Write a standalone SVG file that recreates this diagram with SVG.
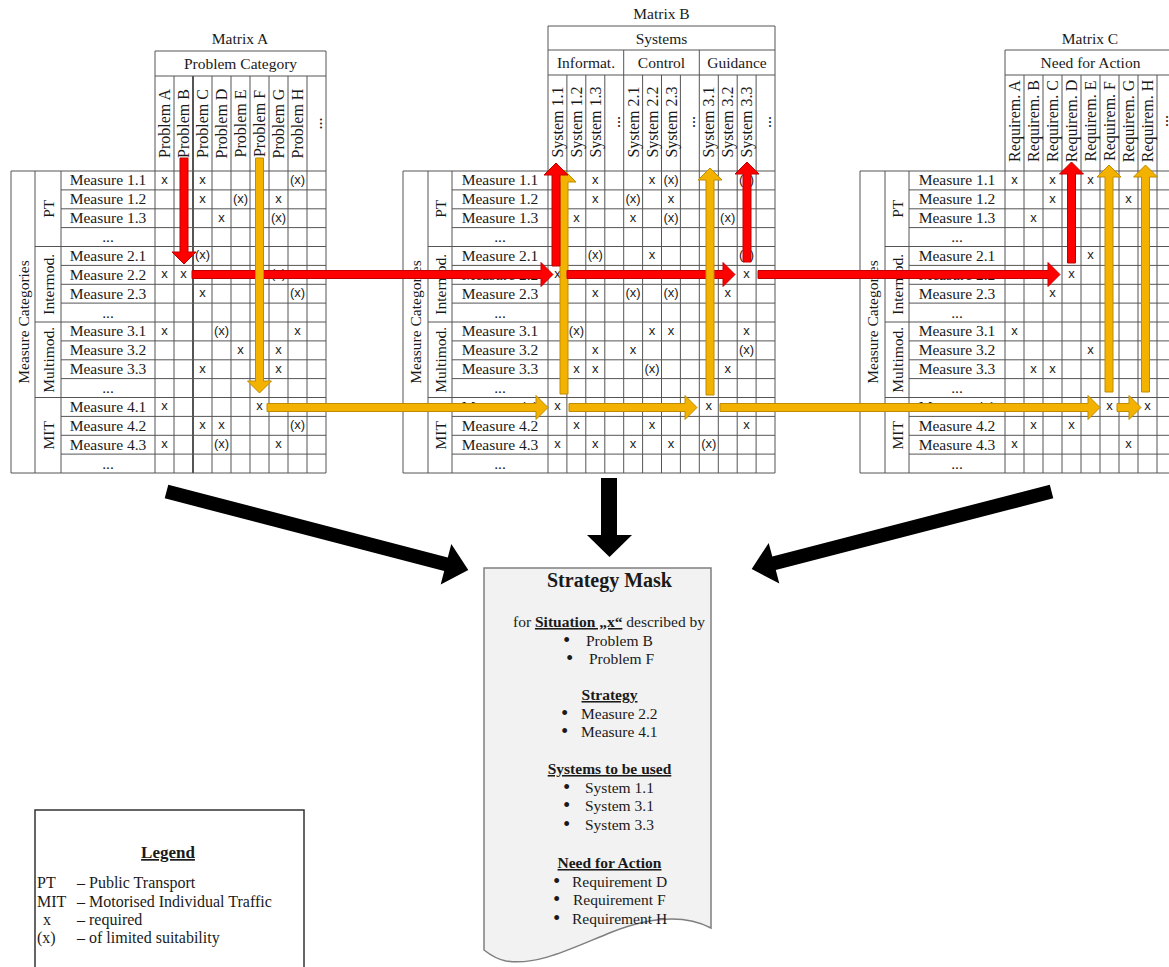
<svg xmlns="http://www.w3.org/2000/svg" width="1169" height="967" viewBox="0 0 1169 967">
<style>
.grid{fill:none;stroke:#555;stroke-width:1}
.t{font-family:"Liberation Serif","Times New Roman",serif;font-size:15.5px;fill:#1a1a1a}
.c{text-anchor:middle}
.h{font-size:16px;text-anchor:middle}
.b{font-weight:bold}
.u{text-decoration:underline}
.bl{font-family:"Liberation Sans",Arial,sans-serif;font-size:18px}
.m{font-family:"Liberation Sans",Arial,sans-serif;font-size:13px;text-anchor:middle;fill:#1a1a1a}
.red{fill:#FF0000;stroke:#C00000;stroke-width:1}
.org{fill:#F3B100;stroke:#BF8C00;stroke-width:1}
.blk{fill:#000}
</style>
<rect width="1169" height="967" fill="#fff"/>

<g id="matrix-a">
<path class="grid" d="M11,171H326M11,473H326M61,189.9H326M61,208.8H326M61,227.6H326M35,246.5H326M61,265.4H326M61,284.3H326M61,303.1H326M35,322H326M61,340.9H326M61,359.8H326M61,378.6H326M35,397.5H326M61,416.4H326M61,435.3H326M61,454.1H326M11,171V473M35,171V473M61,171V473M155,51V473M174,76V473M212,76V473M231,76V473M250,76V473M269,76V473M288,76V473M307,76V473M326,51V473M155,51H326M155,76H326"/>
<path class="grid" style="stroke-width:2" d="M193,76V473"/>
<text class="t c" x="240" y="44">Matrix A</text>
<text class="t c" x="240.5" y="69">Problem Category</text>
<text class="t h" transform="translate(170,123.5) rotate(-90)">Problem A</text>
<text class="t h" transform="translate(189,123.5) rotate(-90)">Problem B</text>
<text class="t h" transform="translate(208,123.5) rotate(-90)">Problem C</text>
<text class="t h" transform="translate(227,123.5) rotate(-90)">Problem D</text>
<text class="t h" transform="translate(246,123.5) rotate(-90)">Problem E</text>
<text class="t h" transform="translate(265,123.5) rotate(-90)">Problem F</text>
<text class="t h" transform="translate(284,123.5) rotate(-90)">Problem G</text>
<text class="t h" transform="translate(303,123.5) rotate(-90)">Problem H</text>
<text class="t h" transform="translate(322,123.5) rotate(-90)">...</text>
<text class="t c" transform="translate(28.5,322) rotate(-90)">Measure Categories</text>
<text class="t c" transform="translate(53.5,208.8) rotate(-90)">PT</text>
<text class="t c" transform="translate(53.5,284.3) rotate(-90)">Intermod.</text>
<text class="t c" transform="translate(53.5,359.8) rotate(-90)">Multimod.</text>
<text class="t c" transform="translate(53.5,435.3) rotate(-90)">MIT</text>
<text class="t c" x="108" y="185.4">Measure 1.1</text>
<text class="t c" x="108" y="204.3">Measure 1.2</text>
<text class="t c" x="108" y="223.2">Measure 1.3</text>
<text class="t c" x="108" y="242">...</text>
<text class="t c" x="108" y="260.9">Measure 2.1</text>
<text class="t c" x="108" y="279.8">Measure 2.2</text>
<text class="t c" x="108" y="298.7">Measure 2.3</text>
<text class="t c" x="108" y="317.5">...</text>
<text class="t c" x="108" y="336.4">Measure 3.1</text>
<text class="t c" x="108" y="355.3">Measure 3.2</text>
<text class="t c" x="108" y="374.2">Measure 3.3</text>
<text class="t c" x="108" y="393">...</text>
<text class="t c" x="108" y="411.9">Measure 4.1</text>
<text class="t c" x="108" y="430.8">Measure 4.2</text>
<text class="t c" x="108" y="449.7">Measure 4.3</text>
<text class="t c" x="108" y="468.5">...</text>
<text class="m" x="164.5" y="183.9">x</text><text class="m" x="202.5" y="183.9">x</text><text class="m" x="297.5" y="183.9">(x)</text>
<text class="m" x="202.5" y="202.8">x</text><text class="m" x="240.5" y="202.8">(x)</text><text class="m" x="278.5" y="202.8">x</text>
<text class="m" x="221.5" y="221.7">x</text><text class="m" x="278.5" y="221.7">(x)</text>
<text class="m" x="202.5" y="259.4">(x)</text>
<text class="m" x="164.5" y="278.3">x</text><text class="m" x="183.5" y="278.3">x</text><text class="m" x="278.5" y="278.3">(x)</text>
<text class="m" x="202.5" y="297.2">x</text><text class="m" x="297.5" y="297.2">(x)</text>
<text class="m" x="164.5" y="334.9">x</text><text class="m" x="221.5" y="334.9">(x)</text><text class="m" x="297.5" y="334.9">x</text>
<text class="m" x="240.5" y="353.8">x</text><text class="m" x="278.5" y="353.8">x</text>
<text class="m" x="202.5" y="372.7">x</text><text class="m" x="278.5" y="372.7">x</text>
<text class="m" x="164.5" y="410.4">x</text><text class="m" x="259.5" y="410.4">x</text>
<text class="m" x="202.5" y="429.3">x</text><text class="m" x="221.5" y="429.3">x</text><text class="m" x="297.5" y="429.3">(x)</text>
<text class="m" x="164.5" y="448.2">x</text><text class="m" x="221.5" y="448.2">(x)</text><text class="m" x="278.5" y="448.2">x</text>
</g>

<g id="matrix-b">
<path class="grid" d="M403,171H775M403,473H775M452,189.9H775M452,208.8H775M452,227.6H775M428,246.5H775M452,265.4H775M452,284.3H775M452,303.1H775M428,322H775M452,340.9H775M452,359.8H775M452,378.6H775M428,397.5H775M452,416.4H775M452,435.3H775M452,454.1H775M403,171V473M428,171V473M452,171V473M548,26V473M566.9,75V473M585.8,75V473M604.8,75V473M623.7,50V473M642.6,75V473M661.5,75V473M680.4,75V473M699.3,50V473M718.3,75V473M737.2,75V473M756.1,75V473M775,26V473M548,26H775M548,50H775M548,75H775"/>
<text class="t c" x="661.5" y="19">Matrix B</text>
<text class="t c" x="661.5" y="43.5">Systems</text>
<text class="t c" x="586" y="67.5">Informat.</text>
<text class="t c" x="661.5" y="67.5">Control</text>
<text class="t c" x="737" y="67.5">Guidance</text>
<text class="t h" transform="translate(563,122) rotate(-90)">System 1.1</text>
<text class="t h" transform="translate(581.9,122) rotate(-90)">System 1.2</text>
<text class="t h" transform="translate(600.8,122) rotate(-90)">System 1.3</text>
<text class="t h" transform="translate(619.7,122) rotate(-90)">...</text>
<text class="t h" transform="translate(638.6,122) rotate(-90)">System 2.1</text>
<text class="t h" transform="translate(657.5,122) rotate(-90)">System 2.2</text>
<text class="t h" transform="translate(676.5,122) rotate(-90)">System 2.3</text>
<text class="t h" transform="translate(695.4,122) rotate(-90)">...</text>
<text class="t h" transform="translate(714.3,122) rotate(-90)">System 3.1</text>
<text class="t h" transform="translate(733.2,122) rotate(-90)">System 3.2</text>
<text class="t h" transform="translate(752.1,122) rotate(-90)">System 3.3</text>
<text class="t h" transform="translate(771,122) rotate(-90)">...</text>
<text class="t c" transform="translate(421,322) rotate(-90)">Measure Categories</text>
<text class="t c" transform="translate(445.5,208.8) rotate(-90)">PT</text>
<text class="t c" transform="translate(445.5,284.3) rotate(-90)">Intermod.</text>
<text class="t c" transform="translate(445.5,359.8) rotate(-90)">Multimod.</text>
<text class="t c" transform="translate(445.5,435.3) rotate(-90)">MIT</text>
<text class="t c" x="500" y="185.4">Measure 1.1</text>
<text class="t c" x="500" y="204.3">Measure 1.2</text>
<text class="t c" x="500" y="223.2">Measure 1.3</text>
<text class="t c" x="500" y="242">...</text>
<text class="t c" x="500" y="260.9">Measure 2.1</text>
<text class="t c" x="500" y="279.8">Measure 2.2</text>
<text class="t c" x="500" y="298.7">Measure 2.3</text>
<text class="t c" x="500" y="317.5">...</text>
<text class="t c" x="500" y="336.4">Measure 3.1</text>
<text class="t c" x="500" y="355.3">Measure 3.2</text>
<text class="t c" x="500" y="374.2">Measure 3.3</text>
<text class="t c" x="500" y="393">...</text>
<text class="t c" x="500" y="411.9">Measure 4.1</text>
<text class="t c" x="500" y="430.8">Measure 4.2</text>
<text class="t c" x="500" y="449.7">Measure 4.3</text>
<text class="t c" x="500" y="468.5">...</text>
<text class="m" x="595.3" y="183.9">x</text><text class="m" x="652" y="183.9">x</text><text class="m" x="671" y="183.9">(x)</text><text class="m" x="746.6" y="183.9">(x)</text>
<text class="m" x="595.3" y="202.8">x</text><text class="m" x="633.1" y="202.8">(x)</text><text class="m" x="671" y="202.8">x</text>
<text class="m" x="576.4" y="221.7">x</text><text class="m" x="633.1" y="221.7">x</text><text class="m" x="671" y="221.7">(x)</text><text class="m" x="727.7" y="221.7">(x)</text>
<text class="m" x="595.3" y="259.4">(x)</text><text class="m" x="652" y="259.4">x</text><text class="m" x="746.6" y="259.4">(x)</text>
<text class="m" x="557.5" y="278.3">x</text><text class="m" x="746.6" y="278.3">x</text>
<text class="m" x="595.3" y="297.2">x</text><text class="m" x="633.1" y="297.2">(x)</text><text class="m" x="671" y="297.2">(x)</text><text class="m" x="727.7" y="297.2">x</text>
<text class="m" x="576.4" y="334.9">(x)</text><text class="m" x="652" y="334.9">x</text><text class="m" x="671" y="334.9">x</text><text class="m" x="746.6" y="334.9">x</text>
<text class="m" x="595.3" y="353.8">x</text><text class="m" x="633.1" y="353.8">x</text><text class="m" x="746.6" y="353.8">(x)</text>
<text class="m" x="576.4" y="372.7">x</text><text class="m" x="595.3" y="372.7">x</text><text class="m" x="652" y="372.7">(x)</text><text class="m" x="727.7" y="372.7">x</text>
<text class="m" x="557.5" y="410.4">x</text><text class="m" x="708.8" y="410.4">x</text>
<text class="m" x="576.4" y="429.3">x</text><text class="m" x="652" y="429.3">x</text><text class="m" x="746.6" y="429.3">x</text>
<text class="m" x="557.5" y="448.2">x</text><text class="m" x="595.3" y="448.2">x</text><text class="m" x="633.1" y="448.2">x</text><text class="m" x="671" y="448.2">x</text><text class="m" x="708.8" y="448.2">(x)</text>
</g>

<g id="matrix-c">
<path class="grid" d="M860,171H1176M860,473H1176M909,189.9H1176M909,208.8H1176M909,227.6H1176M885,246.5H1176M909,265.4H1176M909,284.3H1176M909,303.1H1176M885,322H1176M909,340.9H1176M909,359.8H1176M909,378.6H1176M885,397.5H1176M909,416.4H1176M909,435.3H1176M909,454.1H1176M860,171V473M885,171V473M909,171V473M1005,50V473M1024,75V473M1043,75V473M1062,75V473M1081,75V473M1100,75V473M1119,75V473M1138,75V473M1157,75V473M1005,50H1176M1005,75H1176"/>
<text class="t c" x="1090" y="44">Matrix C</text>
<text class="t c" x="1090.5" y="67.5">Need for Action</text>
<text class="t h" transform="translate(1020,121) rotate(-90)">Requirem. A</text>
<text class="t h" transform="translate(1039,121) rotate(-90)">Requirem. B</text>
<text class="t h" transform="translate(1058,121) rotate(-90)">Requirem. C</text>
<text class="t h" transform="translate(1077,121) rotate(-90)">Requirem. D</text>
<text class="t h" transform="translate(1096,121) rotate(-90)">Requirem. E</text>
<text class="t h" transform="translate(1115,121) rotate(-90)">Requirem. F</text>
<text class="t h" transform="translate(1134,121) rotate(-90)">Requirem. G</text>
<text class="t h" transform="translate(1153,121) rotate(-90)">Requirem. H</text>
<text class="t h" transform="translate(1167.5,121) rotate(-90)">...</text>
<text class="t c" transform="translate(878,322) rotate(-90)">Measure Categories</text>
<text class="t c" transform="translate(902.5,208.8) rotate(-90)">PT</text>
<text class="t c" transform="translate(902.5,284.3) rotate(-90)">Intermod.</text>
<text class="t c" transform="translate(902.5,359.8) rotate(-90)">Multimod.</text>
<text class="t c" transform="translate(902.5,435.3) rotate(-90)">MIT</text>
<text class="t c" x="957" y="185.4">Measure 1.1</text>
<text class="t c" x="957" y="204.3">Measure 1.2</text>
<text class="t c" x="957" y="223.2">Measure 1.3</text>
<text class="t c" x="957" y="242">...</text>
<text class="t c" x="957" y="260.9">Measure 2.1</text>
<text class="t c" x="957" y="279.8">Measure 2.2</text>
<text class="t c" x="957" y="298.7">Measure 2.3</text>
<text class="t c" x="957" y="317.5">...</text>
<text class="t c" x="957" y="336.4">Measure 3.1</text>
<text class="t c" x="957" y="355.3">Measure 3.2</text>
<text class="t c" x="957" y="374.2">Measure 3.3</text>
<text class="t c" x="957" y="393">...</text>
<text class="t c" x="957" y="411.9">Measure 4.1</text>
<text class="t c" x="957" y="430.8">Measure 4.2</text>
<text class="t c" x="957" y="449.7">Measure 4.3</text>
<text class="t c" x="957" y="468.5">...</text>
<text class="m" x="1014.5" y="183.9">x</text><text class="m" x="1052.5" y="183.9">x</text><text class="m" x="1090.5" y="183.9">x</text>
<text class="m" x="1052.5" y="202.8">x</text><text class="m" x="1128.5" y="202.8">x</text>
<text class="m" x="1033.5" y="221.7">x</text>
<text class="m" x="1090.5" y="259.4">x</text>
<text class="m" x="1071.5" y="278.3">x</text>
<text class="m" x="1052.5" y="297.2">x</text>
<text class="m" x="1014.5" y="334.9">x</text>
<text class="m" x="1090.5" y="353.8">x</text>
<text class="m" x="1033.5" y="372.7">x</text><text class="m" x="1052.5" y="372.7">x</text>
<text class="m" x="1109.5" y="410.4">x</text><text class="m" x="1147.5" y="410.4">x</text>
<text class="m" x="1033.5" y="429.3">x</text><text class="m" x="1071.5" y="429.3">x</text>
<text class="m" x="1014.5" y="448.2">x</text><text class="m" x="1128.5" y="448.2">x</text>
</g>

<g id="connectors">
<polygon class="org" points="560,394 568,394 568,182 576,182 564,170 552,182 560,182"/>
<polygon class="red" points="180,158 188,158 188,252 196,252 184,264 172,252 180,252"/>
<polygon class="red" points="192,270.5 541,270.5 541,262.5 553,274.5 541,286.5 541,278.5 192,278.5"/>
<polygon class="red" points="552,266 560,266 560,175 568,175 556,163 544,175 552,175"/>
<polygon class="red" points="567,270.5 723,270.5 723,262.5 735,274.5 723,286.5 723,278.5 567,278.5"/>
<polygon class="red" points="743,262 751,262 751,174 759,174 747,162 735,174 743,174"/>
<polygon class="red" points="758,270.5 1048,270.5 1048,262.5 1060,274.5 1048,286.5 1048,278.5 758,278.5"/>
<polygon class="red" points="1067.5,263 1075.5,263 1075.5,174 1083.5,174 1071.5,162 1059.5,174 1067.5,174"/>
<polygon class="org" points="255.5,158 263.5,158 263.5,381 271.5,381 259.5,393 247.5,381 255.5,381"/>
<polygon class="org" points="267,403.5 536,403.5 536,395.5 548,407.5 536,419.5 536,411.5 267,411.5"/>
<polygon class="org" points="569,403.5 685,403.5 685,395.5 697,407.5 685,419.5 685,411.5 569,411.5"/>
<polygon class="org" points="706,395 714,395 714,180 722,180 710,168 698,180 706,180"/>
<polygon class="org" points="720,403.5 1088,403.5 1088,395.5 1100,407.5 1088,419.5 1088,411.5 720,411.5"/>
<polygon class="org" points="1117,403.5 1129,403.5 1129,395.5 1141,407.5 1129,419.5 1129,411.5 1117,411.5"/>
<polygon class="org" points="1105,392 1113,392 1113,177 1121,177 1109,165 1097,177 1105,177"/>
<polygon class="org" points="1141.5,392 1149.5,392 1149.5,177 1157.5,177 1145.5,165 1133.5,177 1141.5,177"/>
<polygon class="blk" points="168.3,484.7 447.8,557.4 451.3,543.9 468.3,570 440.7,584.5 444.2,571 164.7,498.3"/>
<polygon class="blk" points="601,478 617,478 617,535 632,535 609.5,557 587,535 601,535"/>
<polygon class="blk" points="1049.8,484.7 772.3,556.5 768.7,542.9 751.7,569 779.3,583.6 775.8,570 1053.3,498.3"/>
</g>

<g id="strategy-mask">
<path d="M484,568H711V928C684,914 648,918 612,932C572,948 538,966 506,961C496,959 489,954 484,950Z" fill="#F2F2F2" stroke="#7F7F7F" stroke-width="1.5"/>
<text class="t c b" x="609.5" y="587" style="font-size:20px">Strategy Mask</text>
<text class="t" x="513" y="627">for <tspan class="b u">Situation „x“</tspan> described by</text>
<text class="t" x="563.5" y="645.5"><tspan class="bl">•</tspan><tspan x="586">Problem B</tspan></text>
<text class="t" x="566.5" y="664"><tspan class="bl">•</tspan><tspan x="589">Problem F</tspan></text>
<text class="t c b u" x="609.5" y="700">Strategy</text>
<text class="t" x="561.5" y="718.5"><tspan class="bl">•</tspan><tspan x="581">Measure 2.2</tspan></text>
<text class="t" x="561.5" y="737"><tspan class="bl">•</tspan><tspan x="581">Measure 4.1</tspan></text>
<text class="t c b u" x="609.5" y="774">Systems to be used</text>
<text class="t" x="563.5" y="792.5"><tspan class="bl">•</tspan><tspan x="585">System 1.1</tspan></text>
<text class="t" x="563.5" y="811"><tspan class="bl">•</tspan><tspan x="585">System 3.1</tspan></text>
<text class="t" x="563.5" y="830"><tspan class="bl">•</tspan><tspan x="585">System 3.3</tspan></text>
<text class="t c b u" x="609.5" y="868">Need for Action</text>
<text class="t" x="553.5" y="886.5"><tspan class="bl">•</tspan><tspan x="572">Requirement D</tspan></text>
<text class="t" x="553.5" y="905"><tspan class="bl">•</tspan><tspan x="573">Requirement F</tspan></text>
<text class="t" x="553.5" y="923.5"><tspan class="bl">•</tspan><tspan x="572">Requirement H</tspan></text>
</g>

<g id="legend">
<rect x="35" y="810" width="269" height="170" fill="#fff" stroke="#333" stroke-width="1.5"/>
<text class="t c b u" x="168" y="858" style="font-size:17px">Legend</text>
<text class="t" x="37" y="888" style="font-size:16px">PT</text><text class="t" x="77" y="888" style="font-size:16px">– Public Transport</text>
<text class="t" x="37" y="906.5" style="font-size:16px">MIT</text><text class="t" x="77" y="906.5" style="font-size:16px">– Motorised Individual Traffic</text>
<text class="t" x="43" y="924.5" style="font-size:16px">x</text><text class="t" x="77" y="924.5" style="font-size:16px">– required</text>
<text class="t" x="37" y="942.5" style="font-size:16px">(x)</text><text class="t" x="77" y="942.5" style="font-size:16px">– of limited suitability</text>
</g>
</svg>
